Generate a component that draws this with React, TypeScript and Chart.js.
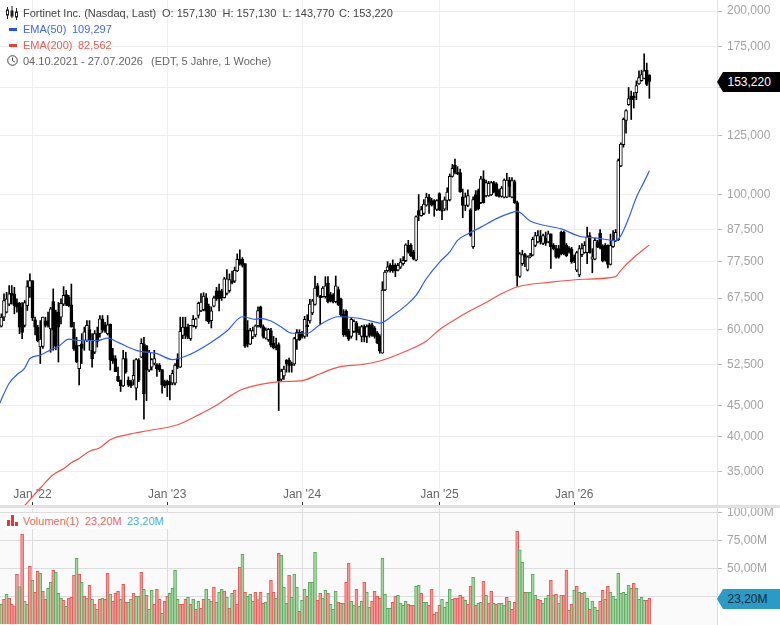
import React, { useEffect, useRef } from "react";
import { Chart, registerables } from "chart.js";

Chart.register(...registerables);

const opens = [
  60.5,60.7,62.8,64,66,68.8,68.6,66.4,66.2,65.2,
  60.9,65.6,70.3,72.1,62.2,60.5,56.1,56.2,61.9,62,
  60.1,66.6,64,64,62.8,66,68.4,67.7,65.8,60.1,
  56.4,51.7,56.8,57.5,57.5,59.9,55.4,55,59,59,
  62.4,61,59,61.2,54.3,53.7,50.2,49.5,48.4,53.7,
  49.5,49.2,49.5,48,53.4,54,56.8,56.4,51.4,52,
  52.7,52.5,52.4,51.5,49.2,49.3,49.2,48.9,48.9,53.7,
  52,58.6,60.5,60.5,57.9,60.8,60.6,63.2,64.3,64.6,
  67.6,65.5,62,65.5,69.4,69.4,69.4,67.6,68.7,69.4,
  72,72,74.8,78.2,78.2,76.9,59.8,56.7,58.3,58.7,
  60.8,65.3,60.6,58,57.7,59.7,57,56.3,56.6,49.6,
  50.3,53.4,53.4,52.6,52.6,57.6,59.3,59.2,58.4,61,
  61.9,63.8,65.9,70.7,68.1,67.9,67.9,71.4,68.4,68.2,
  66.6,69.7,67.2,63.6,64.2,59.5,58.4,59.5,61.4,59.9,
  58.4,60.6,58.4,61,61,60.2,59.2,58.4,54.8,69.6,
  74.9,76.4,76.4,76.4,75,75.9,76.9,77.8,82.4,82.4,
  80.4,77.9,94,92.2,93,96,98.9,97.6,97.6,94.4,
  100.3,94.3,94.5,97.7,97.9,107,111.7,108.6,108.6,99,
  95.9,95.9,94.3,82,99.9,101.4,96.9,106,99.4,99.4,
  99.8,104.5,104,101.4,99.2,98.9,98.9,105.5,98.9,104.9,
  96.9,73.3,76.9,79.6,75,78.9,79.4,82.4,83.5,85.2,
  83,84.8,83.5,86.1,82.4,81.4,81.4,86.6,86.6,82.4,
  81.6,81.3,78.9,75,73.7,79.6,80.2,80.2,85.5,78.2,
  78.2,83.5,86.3,82.2,82.4,82.4,76.7,82,83.9,84.2,
  111.3,120.7,132.2,140.4,145,145,146.9,151.9,153.7,155,159.8,157.13,
];
const highs = [
  63.6,63.6,68.6,69,70.8,70.8,70.3,67.3,66.4,66.4,
  66.9,72.1,74,72.1,62.8,60.9,62,62.8,62.8,64,
  65.2,69.9,64.5,66.4,67.3,70.5,69.5,68.2,71.2,61.6,
  58.2,56.4,59,60.5,62,62,59,59.7,60.5,63.2,
  63.2,61.6,63.2,61.2,55.8,54.3,52,49.5,55.4,55,
  50.1,49.5,53.4,53.7,53.7,57.9,58.2,56.4,55.4,53.7,
  55.4,52.7,52.7,51.5,49.5,49.5,50.4,51.4,52.7,54.7,
  62.8,62.8,62.8,61.2,60.9,63.2,62.6,66.5,68.7,68.9,
  68.7,66,65.3,68,70.3,71.2,69.8,73,75.2,74,
  74.8,75.9,79.8,81,78.7,76.9,62,60.2,60.5,61,
  65.3,65.5,61,60.3,60.2,60.2,58.4,58,57,51.6,
  52.2,53.5,53.8,53,58.2,59.9,59.9,59.5,63,63.4,
  67.2,67.2,73.4,71.4,68.2,70.5,73.2,73.2,69,68.7,
  73.4,70.4,67.5,64.6,64.6,60,62.6,62.2,61.8,60.6,
  60.9,61,61,61.4,61.4,60.6,59.5,58.8,71.8,75,
  77.5,76.9,78,76.9,77,78.4,79,82.9,84,83,
  80.9,92.2,99.9,95.5,98,100.4,100,98.5,98,98,
  100.6,97.6,99,102.5,108,112,114.2,111,110,102,
  100.5,101.7,94.7,99,101.4,102,107,109.3,105.5,105,
  105,105,104.5,102,103,106,108.3,106.6,106.5,105.5,
  97.5,80.2,80.9,80,79.2,80,85,86.6,87.2,87.2,
  86,86.7,87,86.1,83,82.4,82.4,87,87,83,
  82,81.8,79.5,80.6,82.4,83,83.6,88.3,86.5,81.4,
  84.6,84,87.5,82.6,83,82.6,86,87.2,87.5,114.3,
  121.5,133.5,137.8,149.8,147.8,147,153.6,159.6,160,170.2,164.3,157.13,
];
const lows = [
  58.2,60.5,62,63.8,65.6,66,63.6,64,59,57.9,
  60.5,64.4,67.7,62,58.7,57.2,52.7,55.8,60.5,60.5,
  55,55.4,55.5,53,61.2,65.6,65.6,65.3,60.5,55.4,
  52.9,48.6,52.7,55.4,57.3,55.4,52,54.7,56.1,58.2,
  59.3,59.3,58.7,51.4,52.7,51.1,49.2,47.4,48.3,50.8,
  48.3,48.1,48.6,45.9,49.2,53.9,42.7,45.8,51.1,51.4,
  52.4,50.2,51.1,47.1,48.1,46.5,45.9,48.6,48.6,51.7,
  51.9,57.9,57.9,57.9,57.5,60.5,60.2,62.6,64.1,64.3,
  61.9,61.3,60.3,65.3,66.9,64.3,66.9,67.5,68.3,69,
  71.2,71.6,74.6,76.5,75.9,56,56.1,56.6,57.9,58.3,
  60.5,60.3,58,57.8,57.3,56.1,55.7,55.5,44.1,49.2,
  49.6,51,51,51,52.3,55.6,57.5,58,58,58.4,
  61.4,63.4,65.7,67.9,61,67.7,67.5,66.3,66.5,66.3,
  66.3,65.6,63,58.4,58.4,57.5,58,59.2,57.6,58.8,
  57.2,57.2,57,58.2,58.4,58,56.8,54.8,54.8,69.4,
  74.5,74.5,74.4,73.2,74.8,75.5,76.5,77.5,80,79,
  78,77.7,90.5,92,92.6,95.6,93,95.6,92,94,
  94,90.8,94,94.2,97.5,106.7,108,107.7,100.7,91.5,
  94,95.4,85.3,81.5,94,94.2,96.5,96.7,99,99.2,
  99.5,100.5,99.2,98.9,98.9,98.6,98.7,99,98.6,96.6,
  70.6,73,76.4,76,74.8,78.6,79.2,82,83.2,82.8,
  82.6,82.4,83.2,75.5,81,78.5,78.5,79.5,79.5,79,
  80,77,77.2,74.6,73.2,79,80,76.9,80,74.3,
  78,81.7,81.3,77.4,77.6,75.7,76.5,81.8,83.6,83.9,
  111,119.5,126,140,132.7,138.6,143,151.5,153.4,154.8,150.8,143.77,
];
const closes = [
  62.8,62.8,66.9,67.3,68.6,68.2,65.6,65.2,60.5,59.3,
  66.4,70.5,72.1,62.6,60.5,57.4,57.8,62.8,60.9,60.9,
  64.8,59.8,56.2,60.5,66.2,68.2,66,65.6,60.5,55.7,
  53,56.4,55.8,59.4,60.9,57.5,53.7,59,57.3,62.4,
  59.9,59.7,61,53.4,53.2,51.1,49.4,48.4,53.7,51.1,
  48.6,48.4,50.4,53.5,49.5,56.9,47,51.4,55,53.5,
  53.7,51.7,51.5,48.6,48.4,48.6,48.6,50.8,52.4,52,
  59.5,60.5,58.6,58.2,60.9,62.3,62.4,66.2,66.5,68,
  64.3,61.7,64.3,67.6,67.3,67.3,67.6,72.6,72.6,72.4,
  71.6,75,78.2,76.9,76.4,56.3,56.7,59.7,59.7,60.8,
  64.4,60.6,58.4,59.8,60,56.5,55.9,55.9,49.4,51.2,
  51.6,52.6,52.3,52.3,57.9,59.3,57.6,58.4,62.3,60.6,
  66,66.8,70.1,68.2,67.6,70.1,70.7,66.6,66.8,66.6,
  70.7,65.8,63.4,58.8,58.8,57.8,62.3,61.8,59.3,59.2,
  60.6,58.2,60.6,58.6,58.6,58.4,57,55.2,69.6,74.5,
  76,75,74.9,74.9,76.4,77.4,77.9,82.6,80.4,79.2,
  78.4,91.9,92.3,94.4,96.4,98.9,97,96,96,97.6,
  94.3,93.8,97.9,100.8,107,110.3,108.6,108,101,95.9,
  99,99.5,85.6,98,94.3,94.6,106,96.9,104.5,104.2,
  104.5,100.9,99.4,99.2,102.4,105.5,105.5,103,105.3,96.9,
  73.5,79.8,79.6,78.9,78.9,79.4,84.3,85.5,85.5,83.5,
  85.5,83.1,86.1,82,81.4,78.8,78.8,79.8,79.8,79.3,
  80.4,77.4,77.7,80.2,81.4,81.4,82.4,85,80.2,78.9,
  84,82,81.6,77.7,77.9,76.7,82.4,84,86.6,113.6,
  120.9,132.8,137.3,143.6,143,144,150.9,155.5,157.3,159.6,151.6,153.22,
];
const volumes = [
  16.7,17.9,22.3,26.8,23.2,17.9,16.4,44.6,33.6,80.4,
  20.5,17.9,51.8,39.3,28.6,47.3,45.5,29.5,22.3,32.1,
  37.5,48.2,46.4,27.7,23.2,21.4,16.1,23.2,24.1,43.8,
  58.9,44.6,37.5,25,23.2,34.8,22.3,17.9,13.4,22.3,
  23.2,22.3,45.5,26.8,20.5,27.7,29.5,22.3,35.7,19.6,
  19.6,22.3,27.7,25,25,46.4,31.3,25.9,13.4,30.4,
  17.9,31.3,22.3,9.8,20.5,25,27.7,32.1,48.2,22.3,
  17.9,17.9,22.3,24.1,17.9,22.3,13.4,20.5,14.3,22.3,
  31.3,22.3,20.5,33,19.6,28.6,31.3,29.5,24.1,14.3,
  27.7,30.4,17.9,50.9,62.5,28.6,25,26.8,20.5,28.6,
  22,28.6,18.8,19.6,27.7,39.3,28.6,23.2,63.4,61.6,
  33,18.8,43.8,24.1,44.6,33,11.6,21.4,31.3,25,
  37.5,37.5,64.3,21.4,27.7,23.2,30.4,27.7,17.9,13.4,
  29.5,19.6,18.8,18.8,37.5,54.5,20.5,17,31.3,16.1,
  20.5,37.5,28.6,15.2,20.5,29.5,25,23.2,58.9,26.8,
  14.3,14.3,19.6,25,25.9,18.8,17,20.5,17.9,17,
  17,33.9,34.8,27.7,19.6,19.6,17,31.3,8.9,10.7,
  17,22.3,15.2,19.6,31.3,22.3,23.2,23.2,25.9,24.1,
  21.4,17.9,33.9,42,17,18.8,19.6,38.4,25.9,18.8,
  29.5,18.8,17.9,18.8,18.8,17,24.1,20.5,13.4,19.6,
  83,66.4,55.4,28.6,28.6,28.6,44.6,25.9,22.3,21.4,
  18.8,23.2,25.9,39.3,25.9,26.8,18.8,25.9,25.9,48.2,
  12.5,17.9,30.4,33.9,28.6,27.7,28.6,23.2,13.4,20.5,
  15.2,12.5,20.5,30.4,22.3,33.9,28.6,25,22.3,45.5,
  27.7,28.6,26.8,34.8,32.1,36.6,32.1,22.3,24.1,21.4,21.4,23.2,
];
const volumeDirs = [
  "ggrgrrrrgr","ggrgrrgrrg","grgggrgrrr","grgrgrgrgr","grrgrrrgrr",
  "ggrggrgrgg","rrrgrrgggg","rrrgrgrgrr","gggrgggrgr","grrrgrgggr",
  "rrrggrrgrg","ggrgggrggr","gggrrggrgg","grrgrrggrg","grggrrrrgg",
  "ggrrggggrr","rggrggrrrg","rgggggrrrr","grrgrggrgr","rgrgggrgrr",
  "rggrggggrr","gggrgrggrr","grgrgrggrg","ggrrgrgggg","gggggrggggrr",
].join("");

const ema50Idx = [0,4,7,10,12,16,20,23,27,31,38,42,46,53,61,67,74,82,88,94,99,101,105,109,113,119,124,131,138,143,147,152,157,161,165,170,174,177,181,186,192,197,200,205,209,217,224,231,238,240,243,246,249,251];
const ema50 = [45,48.9,50.5,51.8,53.7,54.4,55.5,56.2,57.8,57.5,57.5,58,57.1,55.4,54.7,53.5,54.6,57.1,59.6,62.9,62.3,62.5,61.9,60.5,59.1,59.1,61.1,62.9,62.6,62,61.4,63.2,65.6,68.2,72.7,77.3,80.4,84,86.1,88.3,91.2,93,93.7,90.4,89.2,87.7,85.3,84.7,83.9,85.5,91.3,98.9,104.9,109.297];
const ema200Idx = [9,10,16,21,25,28,31,35,39,43,50,58,69,78,84,90,94,101,109,117,124,131,140,147,157,165,170,177,182,188,193,200,213,226,238,240,245,251];
const ema200 = [30.5,30.8,32.9,34.6,35.4,36.2,36.8,37.8,38.3,39.5,40.3,40.9,41.8,43.6,45,46.8,47.8,48.7,49.2,49.4,50.7,52,52.5,53.2,55.2,57.4,59.9,62.6,64.4,66.4,68.3,70.4,71.7,72.5,73.2,75,78.7,82.562];

const priceTicks = [35,40,45,52.5,60,67.5,77.5,87.5,100,125,150,175,200];
const volumeTicks = [25,50,75,100];
const xTickIdx = [13,65,117,170,222];
const xTickLabels = ["Jan '22","Jan '23","Jan '24","Jan '25","Jan '26"];

const FONT = "'Liberation Sans', Arial, sans-serif";
const X_MIN = 0.463;
const X_MAX = 277.1;
const deCimal = (v: number, d: number) => v.toFixed(d).replace(".", ",");

const noPadding = (s: any) => {
  s.paddingTop = 0;
  s.paddingBottom = 0;
  s.paddingLeft = 0;
  s.paddingRight = 0;
};

const xScaleCommon = (gridColor: string) => ({
  type: "linear" as const,
  min: X_MIN,
  max: X_MAX,
  offset: false,
  afterBuildTicks: (s: any) => { s.ticks = xTickIdx.map((value) => ({ value })); },
  afterFit: (s: any) => { s.height = 0; noPadding(s); },
  border: { display: false },
  grid: { color: gridColor, lineWidth: 1, drawTicks: false, offset: false },
});

const yTicksStyle = {
  color: "#a3a3a3",
  font: { family: FONT, size: 12 },
  padding: 5,
  autoSkip: false,
};

export default function App() {
  const topRef = useRef<HTMLCanvasElement>(null);
  const botRef = useRef<HTMLCanvasElement>(null);

  useEffect(() => {
    const idx = closes.map((_, i) => i);
    const wickData = idx.map((i) => ({ x: i, y: [lows[i], highs[i]] }));
    const bodyData = idx.map((i) => ({ x: i, y: [Math.min(opens[i], closes[i]), Math.max(opens[i], closes[i])] }));
    const bodyFill = idx.map((i) => (closes[i] >= opens[i] ? "#ffffff" : "#000000"));

    const tickMarks = {
      id: "tickMarks",
      afterDraw(chart: any) {
        const { ctx, scales } = chart;
        ctx.save();
        ctx.strokeStyle = "#333333";
        ctx.lineWidth = 1;
        xTickIdx.forEach((v) => {
          const x = Math.round(scales.x.getPixelForValue(v)) + 0.5;
          ctx.beginPath();
          ctx.moveTo(x, chart.height - 3);
          ctx.lineTo(x, chart.height);
          ctx.stroke();
        });
        ctx.restore();
      },
    };

    const top = new Chart(topRef.current!, {
      type: "bar",
      data: {
        datasets: [
          { type: "line", data: ema200Idx.map((x, i) => ({ x, y: ema200[i] })), borderColor: "#f4524a", borderWidth: 1.2, pointRadius: 0, cubicInterpolationMode: "monotone", order: 0 } as any,
          { type: "line", data: ema50Idx.map((x, i) => ({ x, y: ema50[i] })), borderColor: "#2f5cf6", borderWidth: 1.2, pointRadius: 0, cubicInterpolationMode: "monotone", order: 0 } as any,
          { data: bodyData, backgroundColor: bodyFill, borderColor: "#000000", borderWidth: 1, borderSkipped: false, barThickness: 3, grouped: false, order: 1 } as any,
          { data: wickData, backgroundColor: "#000000", borderWidth: 0, barThickness: 1, grouped: false, order: 2 } as any,
        ],
      },
      plugins: [tickMarks],
      options: {
        animation: false,
        responsive: false,
        events: [],
        layout: { padding: 0 },
        plugins: { legend: { display: false }, tooltip: { enabled: false } },
        scales: {
          x: {
            ...xScaleCommon("#f0f0f0"),
            ticks: {
              autoSkip: false,
              maxRotation: 0,
              mirror: true,
              padding: 3,
              color: "#666666",
              font: { family: FONT, size: 12 },
              callback: (_: any, i: number) => xTickLabels[i],
            },
          },
          y: {
            type: "logarithmic",
            position: "right",
            min: 30.85,
            max: 208.6,
            afterBuildTicks: (s: any) => { s.ticks = priceTicks.map((value) => ({ value })); },
            afterFit: (s: any) => { s.width = 63; noPadding(s); },
            border: { display: true, color: "#e2e2e2" },
            grid: { color: "#eeeeee", lineWidth: 1, tickLength: 5, tickColor: "#bbbbbb" },
            ticks: { ...yTicksStyle, callback: (v: any) => deCimal(Number(v), 3) },
          },
        },
      } as any,
    });

    const panelBg = {
      id: "panelBg",
      beforeDraw(chart: any) {
        const { ctx, chartArea: a } = chart;
        ctx.save();
        ctx.fillStyle = "#fafafa";
        ctx.fillRect(a.left, 0, a.right - a.left, chart.height);
        ctx.restore();
      },
    };

    const red = { fill: "#f79a98", line: "#e85a58" };
    const green = { fill: "#a3d6a0", line: "#5ea862" };
    const bot = new Chart(botRef.current!, {
      type: "bar",
      data: {
        datasets: [
          {
            data: volumes.map((v, i) => ({ x: i, y: v })),
            backgroundColor: volumes.map((_, i) => (volumeDirs[i] === "r" ? red.fill : green.fill)),
            borderColor: volumes.map((_, i) => (volumeDirs[i] === "r" ? red.line : green.line)),
            borderWidth: 1,
            borderSkipped: "bottom",
            barThickness: 3,
          } as any,
        ],
      },
      plugins: [panelBg],
      options: {
        animation: false,
        responsive: false,
        events: [],
        layout: { padding: { top: 3, bottom: 0.7 } },
        plugins: { legend: { display: false }, tooltip: { enabled: false } },
        scales: {
          x: { ...xScaleCommon("#dddddd"), ticks: { display: false } },
          y: {
            type: "linear",
            position: "right",
            min: 0,
            max: 103.8,
            afterBuildTicks: (s: any) => { s.ticks = volumeTicks.map((value) => ({ value })); },
            afterFit: (s: any) => { s.width = 63; noPadding(s); },
            border: { display: true, color: "#dddddd" },
            grid: { color: "#dddddd", lineWidth: 1, tickLength: 5, tickColor: "#bbbbbb" },
            ticks: { ...yTicksStyle, callback: (v: any) => deCimal(Number(v), 2) + "M" },
          },
        },
      } as any,
    });

    return () => { top.destroy(); bot.destroy(); };
  }, []);

  const text = (left: number, y: number, color: string, s: string) => (
    <div style={{ position: "absolute", left, top: y - 8, height: 16, lineHeight: "16px", fontSize: 11, color, whiteSpace: "pre" }}>{s}</div>
  );
  const tag = (y: number, bg: string, color: string, s: string) => (
    <div style={{ position: "absolute", left: 717, top: y - 10, width: 63, height: 20, background: bg, clipPath: "polygon(0 50%, 6px 0, 100% 0, 100% 100%, 6px 100%)", color, fontSize: 12, lineHeight: "20px", paddingLeft: 10.5, boxSizing: "border-box" }}>{s}</div>
  );

  return (
    <div style={{ position: "absolute", left: 0, top: 0, width: 780, height: 625, overflow: "hidden", background: "#fff", fontFamily: FONT }}>
      <canvas ref={topRef} width={780} height={505} style={{ position: "absolute", left: 0, top: 0, display: "block" }} />
      <canvas ref={botRef} width={780} height={120} style={{ position: "absolute", left: 0, top: 505, display: "block" }} />
      <div style={{ position: "absolute", left: 0, top: 505, width: 780, height: 3, background: "#e0e0e0" }} />

      <svg style={{ position: "absolute", left: 6, top: 6 }} width={12} height={14} viewBox="0 0 12 14">
        <path d="M1.5 1V13M6 0V12M10.5 2V14" stroke="#222" strokeWidth="1" fill="none" />
        <rect x="0.5" y="4" width="2" height="5" fill="#fff" stroke="#222" />
        <rect x="5" y="5" width="2" height="5" fill="#222" stroke="#222" />
        <rect x="9.5" y="6" width="2" height="5" fill="#fff" stroke="#222" />
      </svg>
      {text(23, 13, "#444444", "Fortinet Inc. (Nasdaq, Last)")}
      {text(162, 13, "#444444", "O: 157,130")}
      {text(222.5, 13, "#444444", "H: 157,130")}
      {text(282.5, 13, "#444444", "L: 143,770")}
      {text(339, 13, "#444444", "C: 153,220")}

      <div style={{ position: "absolute", left: 9, top: 27.5, width: 8, height: 3, background: "#1f4fff" }} />
      {text(23, 29, "#3f66f5", "EMA(50)")}
      {text(72, 29, "#3f66f5", "109,297")}
      <div style={{ position: "absolute", left: 9, top: 43.5, width: 8, height: 3, background: "#f43c30" }} />
      {text(23, 45, "#f2594f", "EMA(200)")}
      {text(78, 45, "#f2594f", "82,562")}

      <svg style={{ position: "absolute", left: 7, top: 55 }} width={11} height={11} viewBox="0 0 11 11">
        <circle cx="5.5" cy="5.5" r="4.8" fill="none" stroke="#444" strokeWidth="1" />
        <path d="M5.5 2.5V5.7L7.8 7" fill="none" stroke="#444" strokeWidth="1" />
      </svg>
      {text(23, 61, "#666666", "04.10.2021 - 27.07.2026")}
      {text(151, 61, "#666666", "(EDT, 5 Jahre, 1 Woche)")}

      <div style={{ position: "absolute", left: 5, top: 513, width: 165, height: 16, background: "#ffffff" }} />
      <svg style={{ position: "absolute", left: 7, top: 515 }} width={12} height={11} viewBox="0 0 12 11">
        <rect x="0" y="5" width="3" height="6" fill="#e53935" />
        <rect x="4" y="0" width="3" height="11" fill="#e53935" />
        <rect x="8" y="7" width="3" height="4" fill="#e53935" />
      </svg>
      {text(23, 521, "#f2635a", "Volumen(1)")}
      {text(85, 521, "#f2635a", "23,20M")}
      {text(127, 521, "#45aed0", "23,20M")}

      {tag(82, "#000000", "#ffffff", "153,220")}
      {tag(599, "#2b9ac4", "#0c2a3a", "23,20M")}
    </div>
  );
}
